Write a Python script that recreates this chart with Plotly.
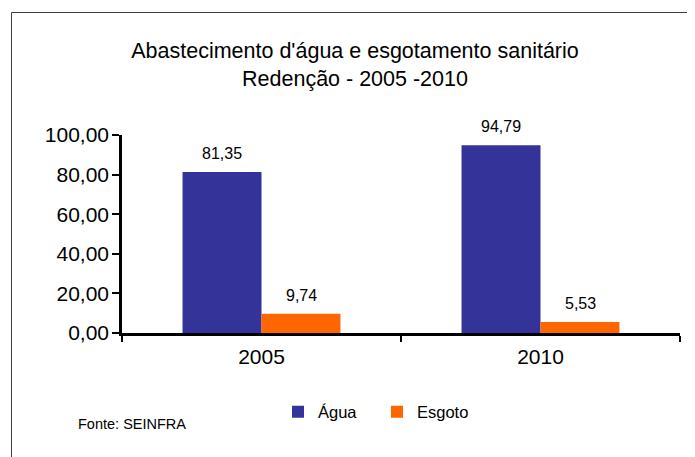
import plotly.graph_objects as go

categories = ["2005", "2010"]
agua = [81.35, 94.79]
esgoto = [9.74, 5.53]
series_names = ["Água", "Esgoto"]
colors = ["#333399", "#FF6600"]
title_lines = ["Abastecimento d'água e esgotamento sanitário", "Redenção - 2005 -2010"]
source_text = "Fonte: SEINFRA"

FONT = "Arial, Liberation Sans, sans-serif"

# The page body has an 8px margin, so the figure is drawn 8px smaller and
# reference pixel positions are converted with that offset.
OFF = 8
W, H = 695 - OFF, 457 - OFF
L = 122 - OFF
R = W - (680 - OFF)
T = 135 - OFF
B = H - (333 - OFF)
pw, ph = W - L - R, H - T - B

def px_to_paper_x(px):
    return (px - OFF - L) / pw

def px_to_paper_y(py):
    return (H - B - (py - OFF)) / ph

fig = go.Figure()
for name, vals, col in zip(series_names, [agua, esgoto], colors):
    fig.add_trace(go.Bar(x=categories, y=vals, name=name,
                         marker=dict(color=col, line=dict(width=0))))

def fmt(v):
    return f"{v:.2f}".replace(".", ",")

annotations = []
for si, vals in enumerate([agua, esgoto]):
    for ci, v in enumerate(vals):
        annotations.append(dict(
            x=ci, y=v, xref="x", yref="y", text=fmt(v), showarrow=False,
            xshift=(-39.5 if si == 0 else 39.5), yshift=8, yanchor="bottom",
            font=dict(family=FONT, size=16, color="#000000")))

annotations.append(dict(
    x=px_to_paper_x(76), y=px_to_paper_y(424), xref="paper", yref="paper",
    xanchor="left", yanchor="middle", showarrow=False, text=source_text,
    font=dict(family=FONT, size=14.5, color="#000000")))

fig.update_layout(
    width=W, height=H,
    margin=dict(l=L, r=R, t=T, b=B, pad=0, autoexpand=False),
    paper_bgcolor="white", plot_bgcolor="white",
    separators=",.",
    bargap=0.434, bargroupgap=0,
    barmode="group",
    title=dict(text="<br>".join(title_lines), x=px_to_paper_x(355), xref="paper", xanchor="center",
               y=1 - 50 / H, yref="container", yanchor="top",
               font=dict(family=FONT, size=21.5, color="#000000")),
    legend=dict(orientation="h", x=px_to_paper_x(278), y=px_to_paper_y(412),
                xanchor="left", yanchor="middle",
                font=dict(family=FONT, size=16.5, color="#000000"), entrywidth=54, itemwidth=30,
                bgcolor="rgba(0,0,0,0)"),
    annotations=annotations,
    shapes=[dict(type="rect", xref="paper", yref="paper",
                 x0=px_to_paper_x(11.5), x1=px_to_paper_x(720),
                 y0=px_to_paper_y(480), y1=px_to_paper_y(12.5),
                 line=dict(color="#404040", width=1), layer="below")],
    font=dict(family=FONT, color="#000000"),
)

fig.update_xaxes(type="category", range=[-0.5, 1.5], showline=True, linecolor="#000000", linewidth=2.5,
                 ticks="outside", tickson="boundaries", ticklen=6, tickwidth=2, tickcolor="#000000",
                 showgrid=False, tickfont=dict(family=FONT, size=21, color="#000000"), ticklabelstandoff=3)
fig.update_yaxes(range=[0, 100], tickvals=[0, 20, 40, 60, 80, 100], tickformat=".2f",
                 showline=True, linecolor="#000000", linewidth=2.5,
                 ticks="outside", ticklen=7, tickwidth=2, tickcolor="#000000",
                 showgrid=False, zeroline=False, tickfont=dict(family=FONT, size=21, color="#000000"),
                 ticklabelstandoff=-1)

fig.write_html("out.html")
